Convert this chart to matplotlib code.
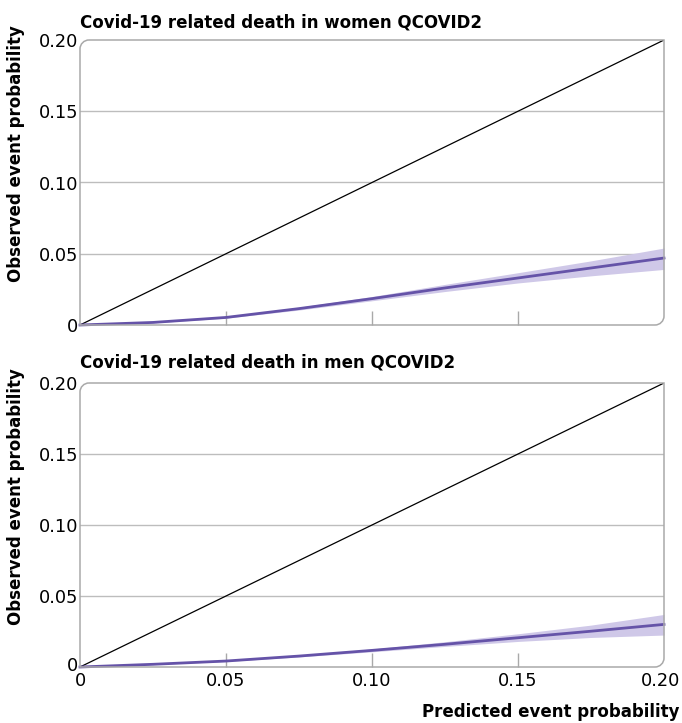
import matplotlib
matplotlib.use("Agg")
import matplotlib.pyplot as plt
import matplotlib.transforms as mtransforms
from matplotlib.path import Path
from matplotlib.patches import PathPatch

plt.rcParams['font.family'] = ['DejaVu Sans']

# ---- data ----
pred = [0.0, 0.025, 0.05, 0.075, 0.10, 0.125, 0.15, 0.175, 0.20]

women_obs = [0.0, 0.0018, 0.0053, 0.0115, 0.0185, 0.026, 0.033, 0.040, 0.047]
women_lo = [0.0, 0.0015, 0.0048, 0.0105, 0.017, 0.0235, 0.0295, 0.0345, 0.039]
women_hi = [0.0, 0.0021, 0.0058, 0.0125, 0.020, 0.0285, 0.0367, 0.045, 0.054]

men_obs = [0.0, 0.0019, 0.0042, 0.0077, 0.0117, 0.016, 0.0206, 0.0252, 0.030]
men_lo = [0.0, 0.0017, 0.0039, 0.0071, 0.0107, 0.0145, 0.018, 0.0208, 0.0225]
men_hi = [0.0, 0.0021, 0.0045, 0.0083, 0.0127, 0.0178, 0.0234, 0.0295, 0.037]

ref_line = [0.0, 0.20]

yticks = [0, 0.05, 0.10, 0.15, 0.20]
ytick_labels = ["0", "0.05", "0.10", "0.15", "0.20"]
xticks = [0, 0.05, 0.10, 0.15, 0.20]
xtick_labels = ["0", "0.05", "0.10", "0.15", "0.20"]

titles = ["Covid-19 related death in women QCOVID2",
          "Covid-19 related death in men QCOVID2"]
ylabel = "Observed event probability"
xlabel = "Predicted event probability"

line_color = "#6553a8"
band_color = "#cfc8e8"
grid_color = "#bdbdbd"
frame_color = "#a9a9a9"

W, H = 682, 723
fig = plt.figure(figsize=(W / 100, H / 100), dpi=100)

ax_l, ax_r = 80 / W, 664 / W
panels = [(40, 325), (383, 667)]
title_baselines = [27, 367]


def rounded_frame(ax, wpx, hpx, r=9):
    rx, ry = r / wpx, r / hpx
    k = 0.5523
    verts = [
        (rx, 1), (1, 1), (1, ry),
        (1, ry * (1 - k)), (1 - rx * (1 - k), 0), (1 - rx, 0),
        (0, 0), (0, 1 - ry),
        (0, 1 - ry * (1 - k)), (rx * (1 - k), 1), (rx, 1),
    ]
    codes = [Path.MOVETO, Path.LINETO, Path.LINETO,
             Path.CURVE4, Path.CURVE4, Path.CURVE4,
             Path.LINETO, Path.LINETO,
             Path.CURVE4, Path.CURVE4, Path.CURVE4]
    p = PathPatch(Path(verts, codes), transform=ax.transAxes, fill=False,
                  edgecolor=frame_color, lw=1.1, clip_on=False, zorder=5)
    ax.add_patch(p)


series = [(women_obs, women_lo, women_hi), (men_obs, men_lo, men_hi)]

for i, ((top, bot), (obs, lo, hi)) in enumerate(zip(panels, series)):
    ax = fig.add_axes([ax_l, 1 - bot / H, ax_r - ax_l, (bot - top) / H])
    ax.set_xlim(0, 0.20)
    ax.set_ylim(0, 0.20)
    for s in ax.spines.values():
        s.set_visible(False)
    for g in [0.05, 0.10, 0.15]:
        ax.axhline(g, color=grid_color, lw=1.0, zorder=1)
    ax.plot(ref_line, ref_line, color="black", lw=0.9, zorder=3)
    ax.fill_between(pred, lo, hi, color=band_color, lw=0, zorder=2)
    ax.plot(pred, obs, color=line_color, lw=2.0, zorder=4, clip_on=False)
    rounded_frame(ax, (ax_r - ax_l) * W, bot - top)

    ax.set_yticks(yticks)
    ax.set_yticklabels(ytick_labels, fontsize=12.8)
    ax.tick_params(axis='y', length=0, pad=1.5)
    ax.set_xticks(xticks)
    ax.tick_params(axis='x', direction='in', length=10, color=frame_color,
                   width=1.0, pad=3.5)
    if i == 0:
        ax.set_xticklabels([])
    else:
        ax.set_xticklabels(xtick_labels, fontsize=12.8)
        # small nudges so labels at the corner / edge stay clear
        ylab0 = ax.get_yticklabels()[0]
        ylab0.set_transform(ylab0.get_transform() + mtransforms.ScaledTranslation(
            0, 3 / 100, fig.dpi_scale_trans))
        xlab_last = ax.get_xticklabels()[-1]
        xlab_last.set_transform(xlab_last.get_transform() + mtransforms.ScaledTranslation(
            -3 / 100, 0, fig.dpi_scale_trans))
    xt = ax.xaxis.get_major_ticks()
    xt[0].tick1line.set_visible(False)
    xt[-1].tick1line.set_visible(False)

    fig.text(80 / W, 1 - title_baselines[i] / H, titles[i], ha='left',
             va='baseline', fontsize=12, fontweight='bold')
    fig.text(16 / W, 1 - (top + 114) / H, ylabel, rotation=90, ha='center',
             va='center', fontsize=12, fontweight='bold')

fig.text(679 / W, 1 - 712 / H, xlabel, ha='right', va='center',
         fontsize=12, fontweight='bold')

fig.savefig("out.png", dpi=100)
